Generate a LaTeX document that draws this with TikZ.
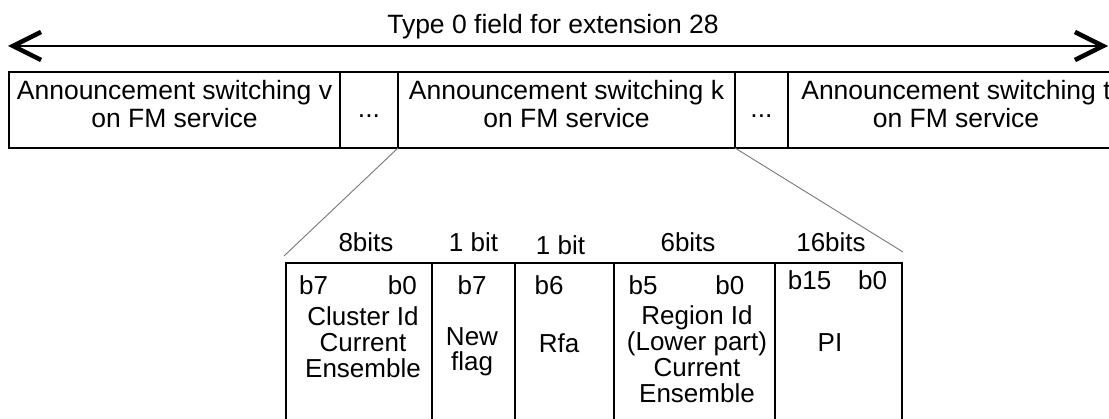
\documentclass[tikz,border=0pt]{standalone}
\usepackage{fontspec}
\setmainfont{Liberation Sans}
\usetikzlibrary{arrows.meta,positioning}
\definecolor{zoomgray}{RGB}{120,120,120}

\begin{document}
\begin{tikzpicture}[x=1pt, y=-1pt,
  node distance=0pt and 0pt,
  topbox/.style={draw, line width=2.2pt, minimum height=76pt, inner sep=0pt,
               outer sep=0pt, align=center, text height=47pt, text depth=11pt,
               font=\fontsize{26.5}{28}\selectfont},
  dotbox/.style={topbox, text height=22pt, text depth=6pt},
  cell/.style={draw, line width=2.3pt, minimum height=175pt, inner sep=0pt, outer sep=0pt},
  celltxt/.style={anchor=base, inner sep=0pt, align=center,
               font=\fontsize{26}{26}\selectfont},
  span/.style={{Straight Barb[length=28pt,width=28pt,line width=4.5pt]}-{Straight Barb[length=28pt,width=28pt,line width=4.5pt]},
               line width=2pt},
  zoomline/.style={zoomgray, line width=0.9pt}
]
\useasboundingbox (0,0) rectangle (1109,419);

% length of the whole field
\coordinate (spanL) at (8,46);
\coordinate (spanR) at (1108,46);
\draw[span] (spanL) -- (spanR);
\node[celltxt, font=\fontsize{26.5}{28}\selectfont] (title) at (553,34) {Type 0 field for extension 28};

% announcement switchings
\node[topbox, minimum width=331pt, anchor=north west] (annv) at (9,72) {Announcement switching v\\on FM service};
\node[dotbox, minimum width=58pt, right=of annv] (dotsa) {...};
\node[topbox, minimum width=337pt, right=of dotsa] (annk) {Announcement switching k\\on FM service};
\node[dotbox, minimum width=53pt, right=of annk] (dotsb) {...};
\node[topbox, minimum width=336pt, right=of dotsb] (annt) {Announcement switching t\\on FM service};

% fields of one switching
\node[cell, minimum width=146pt, anchor=north west] (clus) at (286,263) {};
\node[cell, minimum width=83pt, right=of clus] (newf) {};
\node[cell, minimum width=99pt, right=of newf] (rfa) {};
\node[cell, minimum width=161pt, right=of rfa] (regn) {};
\node[cell, minimum width=127pt, right=of regn] (pi) {};

\node[celltxt] (wclus) at ([xshift=7pt,yshift=11pt]clus.north) {8bits};
\node[celltxt] (wnewf) at ([yshift=11pt]newf.north) {1 bit};
\node[celltxt] (wrfa) at ([xshift=-4pt,yshift=8pt]rfa.north) {1 bit};
\node[celltxt] (wregn) at ([xshift=-6.5pt,yshift=11pt]regn.north) {6bits};
\node[celltxt] (wpi) at ([xshift=-7.5pt,yshift=11pt]pi.north) {16bits};

% last lines sit on the base anchor
\node[celltxt] (bclus) at ([xshift=-1pt,yshift=-32pt]clus.north) {b7\hspace{60pt}b0};
\node[celltxt] (tclus) at ([xshift=4pt,yshift=-115pt]clus.north) {Cluster Id\\Current\\Ensemble};
\node[celltxt] (bnewf) at ([xshift=-1.5pt,yshift=-32pt]newf.north) {b7};
\node[celltxt, font=\fontsize{26}{25}\selectfont] (tnewf) at ([xshift=-1.5pt,yshift=-108pt]newf.north) {New\\flag};
\node[celltxt] (brfa) at ([xshift=-15.5pt,yshift=-32pt]rfa.north) {b6};
\node[celltxt] (trfa) at ([xshift=-5.5pt,yshift=-90pt]rfa.north) {Rfa};
\node[celltxt] (bregn) at ([xshift=-8pt,yshift=-32pt]regn.north) {b5\hspace{58pt}b0};
\node[celltxt] (tregn) at ([xshift=2.5pt,yshift=-140pt]regn.north) {Region Id\\(Lower part)\\Current\\Ensemble};
\node[celltxt] (bpi) at ([xshift=-1pt,yshift=-27pt]pi.north) {b15\hspace{27pt}b0};
\node[celltxt] (tpi) at ([xshift=-8.5pt,yshift=-89pt]pi.north) {PI};

% zoom lines
\coordinate (zoomL) at (284,256);
\coordinate (zoomR) at (903,252);
\draw[zoomline] (annk.south west) -- (zoomL);
\draw[zoomline] (annk.south east) -- (zoomR);
\end{tikzpicture}
\end{document}
